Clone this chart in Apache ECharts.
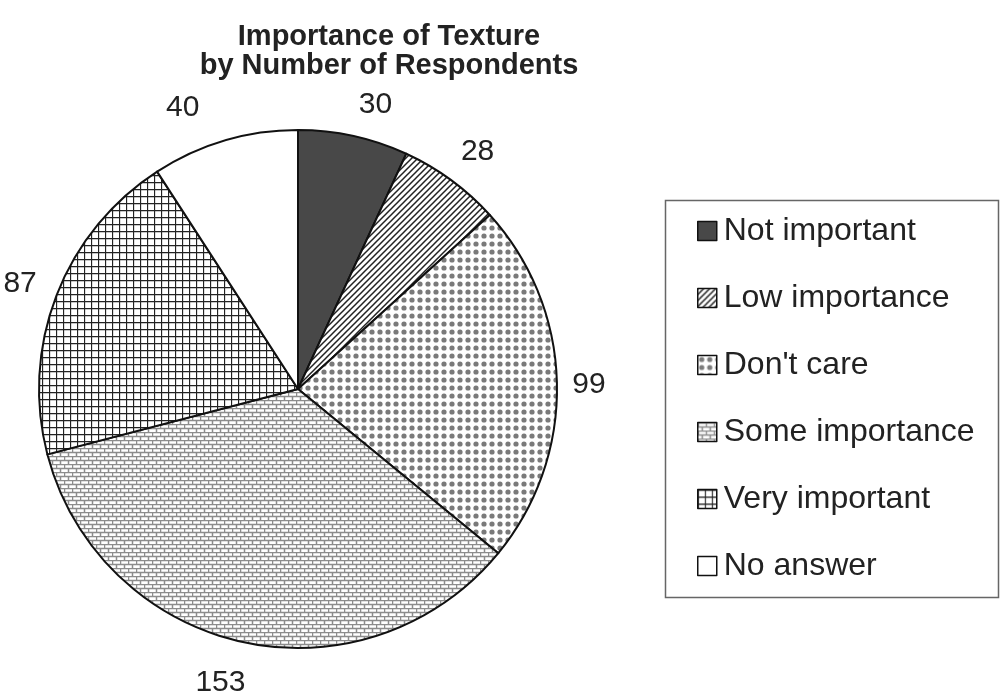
<!DOCTYPE html>
<html>
<head>
<meta charset="utf-8">
<script src="https://cdn.jsdelivr.net/npm/echarts@6/dist/echarts.min.js"></script>
<style>
  html, body { margin: 0; padding: 0; background: #fff; }
  #chart { width: 1000px; height: 696px; }
</style>
</head>
<body>
<div id="chart"></div>
<script>
// chart data
var categories = ['Not important', 'Low importance', "Don't care", 'Some importance', 'Very important', 'No answer'];
var respondents = [30, 28, 99, 153, 87, 40];

// small nudges for the value labels (Excel does not put them exactly on the mid angle)
var labelNudge = [[14, 6], [4, 2], [-6, 3], [-14, 4], [-1, 2], [-31, 4]];

// small canvas tiles used as fill patterns
function tile(size, draw) {
  var c = document.createElement('canvas');
  c.width = size; c.height = size;
  var ctx = c.getContext('2d');
  ctx.fillStyle = '#fff';
  ctx.fillRect(0, 0, size, size);
  draw(ctx, size);
  return { image: c, repeat: 'repeat' };
}

var diagonal = tile(6, function (ctx, s) {
  ctx.strokeStyle = '#222';
  ctx.lineWidth = 1.5;
  ctx.beginPath();
  ctx.moveTo(-1, s + 1); ctx.lineTo(s + 1, -1);
  ctx.moveTo(-1, 1); ctx.lineTo(1, -1);
  ctx.moveTo(s - 1, s + 1); ctx.lineTo(s + 1, s - 1);
  ctx.stroke();
});

var dots = tile(8, function (ctx, s) {
  ctx.fillStyle = '#7a7a7a';
  ctx.beginPath();
  ctx.arc(4, 4, 2.6, 0, Math.PI * 2);
  ctx.fill();
});

var bricks = tile(8, function (ctx, s) {
  ctx.strokeStyle = '#8c8c8c';
  ctx.lineWidth = 1.5;
  ctx.beginPath();
  ctx.moveTo(0, 0.5); ctx.lineTo(s, 0.5);
  ctx.moveTo(0, 4.5); ctx.lineTo(s, 4.5);
  ctx.moveTo(0.5, 0); ctx.lineTo(0.5, 4.5);
  ctx.moveTo(4.5, 4.5); ctx.lineTo(4.5, 8);
  ctx.stroke();
});

var grid = tile(7, function (ctx, s) {
  ctx.strokeStyle = '#222';
  ctx.lineWidth = 1.3;
  ctx.beginPath();
  ctx.moveTo(0, 0.5); ctx.lineTo(s, 0.5);
  ctx.moveTo(0.5, 0); ctx.lineTo(0.5, s);
  ctx.stroke();
});

var fills = ['#484848', diagonal, dots, bricks, grid, '#ffffff'];

var pieData = categories.map(function (name, i) {
  return { name: name, value: respondents[i], itemStyle: { color: fills[i] } };
});

var labelData = categories.map(function (name, i) {
  return { name: name, value: respondents[i], label: { offset: labelNudge[i] } };
});

var font = 'Liberation Sans, Arial, sans-serif';

var chart = echarts.init(document.getElementById('chart'));
chart.setOption({
  animation: false,
  backgroundColor: '#fff',
  title: {
    text: 'Importance of Texture\nby Number of Respondents',
    left: 384,
    top: 17,
    textAlign: 'center',
    textStyle: {
      fontFamily: font,
      fontSize: 29,
      fontWeight: 'bold',
      color: '#222',
      lineHeight: 29
    }
  },
  graphic: [{
    type: 'rect',
    shape: { x: 665.5, y: 200.5, width: 333, height: 397 },
    style: { fill: 'none', stroke: '#666', lineWidth: 1.5 }
  }],
  legend: {
    orient: 'vertical',
    left: 692,
    top: 210,
    icon: 'rect',
    itemWidth: 19,
    itemHeight: 19,
    itemGap: 35,
    data: categories,
    itemStyle: { borderColor: '#111', borderWidth: 1.5 },
    textStyle: {
      fontFamily: font,
      fontSize: 32,
      lineHeight: 30,
      color: '#222',
      padding: [0, 0, 0, 2]
    }
  },
  series: [{
    type: 'pie',
    center: [298, 389],
    radius: 259,
    startAngle: 90,
    clockwise: true,
    itemStyle: { borderColor: '#111', borderWidth: 2 },
    label: { show: false },
    emphasis: { disabled: true },
    data: pieData
  }, {
    // invisible, larger pie used only to place the value labels outside the rim
    type: 'pie',
    center: [298, 389],
    radius: 588,
    startAngle: 90,
    clockwise: true,
    silent: true,
    z: 1,
    itemStyle: { color: 'rgba(0,0,0,0)', borderWidth: 0 },
    label: {
      show: true,
      position: 'inside',
      formatter: '{c}',
      fontFamily: font,
      fontSize: 30,
      color: '#222'
    },
    labelLine: { show: false },
    emphasis: { disabled: true },
    data: labelData
  }]
});
</script>
</body>
</html>
